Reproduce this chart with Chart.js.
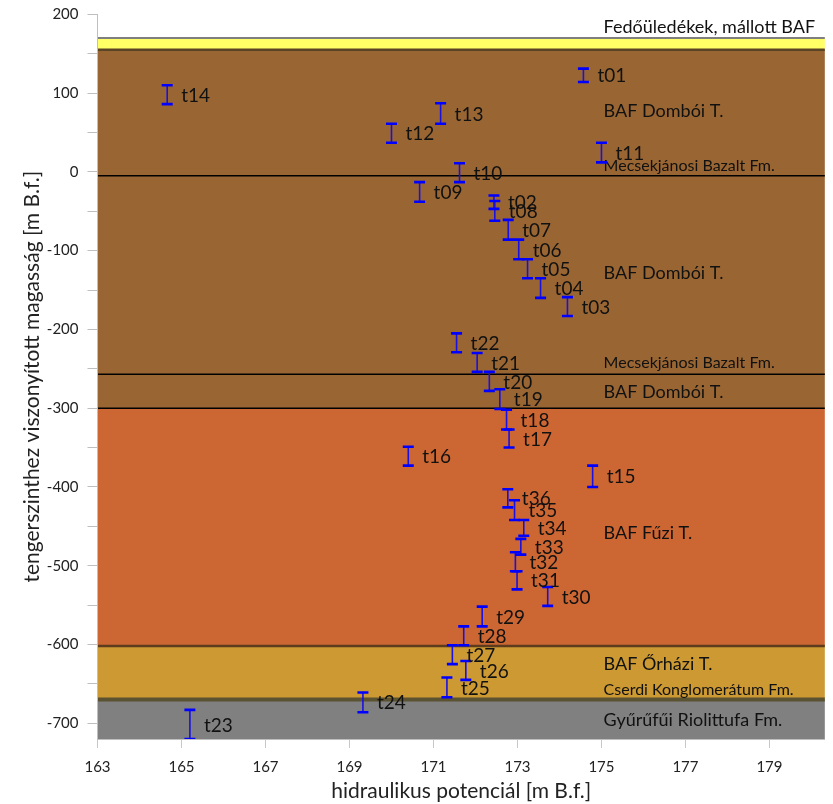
<!DOCTYPE html>
<html><head><meta charset="utf-8">
<script src="https://cdn.jsdelivr.net/npm/chart.js@4"></script>
<style>html,body{margin:0;padding:0;background:#fff}#wrap{width:833px;height:804px}</style>
</head><body><div id="wrap"><canvas id="c" width="833" height="804"></canvas></div>
<script>
// ---- data ----
const pointNames = ['t01','t02','t03','t04','t05','t06','t07','t08','t09','t10','t11','t12','t13','t14','t15','t16','t17','t18','t19','t20','t21','t22','t23','t24','t25','t26','t27','t28','t29','t30','t31','t32','t33','t34','t35','t36'];
const headValues = [174.57,172.44,174.19,173.55,173.24,173.03,172.78,172.46,170.67,171.62,175.0,170.0,171.17,164.66,174.79,170.4,172.8,172.74,172.58,172.33,172.04,171.55,165.2,169.32,171.32,171.77,171.45,171.72,172.16,173.72,172.99,172.95,173.08,173.15,172.93,172.77];
const elevTop = [131,-30,-159,-135,-111,-86,-61,-37,-13,11,37,61,87,110,-373,-349,-327,-302,-276,-254,-230,-205,-683,-661,-642,-621,-601,-577,-552,-527,-507,-483,-466,-442,-417,-403];
const elevBottom = [114,-47,-183,-160,-135,-111,-86,-62,-38,-13,12,37,61,86,-400,-373,-350,-327,-301,-278,-254,-229,-720,-686,-667,-645,-625,-601,-577,-551,-530,-507,-486,-462,-442,-426];

const bandTop = [170,155,-300,-602,-670];
const bandBottom = [155,-300,-602,-670,-720];
const bandColors = ['#FFFF66','#996633','#CC6633','#CC9933','#808080'];

const boundaryValues = [170,155,-5,-257,-300,-602,-670];
const boundaryColors = ['#7f7f7f','#5a4426','#000000','#000000','#000000','#5c3c1c','#5a5230'];
const boundaryWidths = [2,2.5,1.5,1.5,1.5,2.5,4];

const layerNames = ['Fedőüledékek, mállott BAF','BAF Dombói T.','Mecsekjánosi Bazalt Fm.','BAF Dombói T.','Mecsekjánosi Bazalt Fm.','BAF Dombói T.','BAF Fűzi T.','BAF Őrházi T.','Cserdi Konglomerátum Fm.','Gyűrűfűi Riolittufa Fm.'];
const layerLabelY = [184,77,8,-129,-243,-280,-459,-625,-657,-696];
const layerLabelSmall = [false,false,true,false,true,false,false,false,true,false];
const layerLabelX = 175.05;

const xTicks = [163,165,167,169,171,173,175,177,179];
const yTicks = [-700,-650,-600,-550,-500,-450,-400,-350,-300,-250,-200,-150,-100,-50,0,50,100,150,200];

// build error-bar segments (gaps between)
const barData = [];
headValues.forEach((x,i)=>{
  barData.push({x:x,y:elevBottom[i]});
  barData.push({x:x,y:elevTop[i]});
  barData.push({x:x,y:null});
});

const FONT = 'Lato, "Open Sans", sans-serif';

const bandPlugin = {
  id:'bands',
  beforeDraw(chart){
    const {ctx, chartArea:a, scales:{x,y}} = chart;
    ctx.save();
    ctx.fillStyle='#fff'; ctx.fillRect(0,0,chart.width,chart.height);
    ctx.beginPath(); ctx.rect(a.left,a.top,a.right-a.left,a.bottom-a.top); ctx.clip();
    bandTop.forEach((t,i)=>{
      const y1=y.getPixelForValue(t), y2=y.getPixelForValue(bandBottom[i]);
      ctx.fillStyle=bandColors[i];
      ctx.fillRect(a.left,y1,a.right-a.left,y2-y1);
    });
    boundaryValues.forEach((v,i)=>{
      const py=y.getPixelForValue(v);
      ctx.strokeStyle=boundaryColors[i]; ctx.lineWidth=boundaryWidths[i];
      ctx.beginPath(); ctx.moveTo(a.left,py); ctx.lineTo(a.right,py); ctx.stroke();
    });
    ctx.restore();
  },
  beforeDatasetsDraw(chart){
    const {ctx, chartArea:a, scales:{x,y}} = chart;
    ctx.save();
    ctx.beginPath(); ctx.rect(a.left,a.top,a.right-a.left,a.bottom-a.top); ctx.clip();
    ctx.fillStyle='#111'; ctx.textBaseline='middle'; ctx.textAlign='left';
    layerNames.forEach((n,i)=>{
      ctx.font = (layerLabelSmall[i]? '16px ':'18px ')+FONT;
      ctx.fillText(n, x.getPixelForValue(layerLabelX), y.getPixelForValue(layerLabelY[i]));
    });
    ctx.restore();
  },
  afterDatasetsDraw(chart){
    const {ctx, scales:{x,y}} = chart;
    ctx.save();
    ctx.fillStyle='#111'; ctx.textBaseline='middle'; ctx.textAlign='left';
    ctx.font='19px '+FONT;
    pointNames.forEach((n,i)=>{
      const px=x.getPixelForValue(headValues[i])+14;
      const py=y.getPixelForValue((elevTop[i]+elevBottom[i])/2);
      ctx.fillText(n,px,py+1);
    });
    ctx.restore();
  }
};

new Chart(document.getElementById('c'),{
  type:'scatter',
  data:{datasets:[{
    data:barData, showLine:true, spanGaps:false,
    borderColor:'#1a10e0', borderWidth:1.6,
    pointStyle:'line', pointRadius:5.5, pointHoverRadius:5.5,
    pointBorderColor:'#0000ff', pointBorderWidth:2.6, pointBackgroundColor:'#0000ff'
  }]},
  options:{
    responsive:false, animation:false, devicePixelRatio:1,
    layout:{padding:{top:14.3,right:0,left:0,bottom:0}},
    plugins:{legend:{display:false}, tooltip:{enabled:false}},
    scales:{
      x:{type:'linear', min:163, max:180.32,
        afterBuildTicks:s=>{s.ticks=xTicks.map(v=>({value:v}));},
        afterFit:s=>{s.height=65; s.paddingLeft=0; s.paddingRight=0;},
        grid:{drawOnChartArea:false, drawTicks:true, tickLength:9, color:'#c8c8c8'},
        border:{color:'#bfbfbf'},
        ticks:{font:{family:FONT,size:15}, color:'#222', padding:10, callback:v=>String(v)},
        title:{display:true, text:'hidraulikus potenciál [m B.f.]', font:{family:FONT,size:21}, color:'#222', padding:{top:0,bottom:0}}
      },
      y:{type:'linear', min:-720, max:200,
        afterBuildTicks:s=>{s.ticks=yTicks.map(v=>({value:v}));},
        afterFit:s=>{s.width=97.5; s.paddingTop=0; s.paddingBottom=0;},
        grid:{drawOnChartArea:false, drawTicks:true, tickLength:10, color:'#bfbfbf'},
        border:{color:'#bfbfbf'},
        ticks:{font:{family:FONT,size:15}, color:'#222', padding:9, callback:v=>(v%100===0? String(v):'')},
        title:{display:true, text:'tengerszinthez viszonyított magasság [m B.f.]', font:{family:FONT,size:21}, color:'#222', padding:{top:20,bottom:0}}
      }
    }
  },
  plugins:[bandPlugin]
});
</script></body></html>
